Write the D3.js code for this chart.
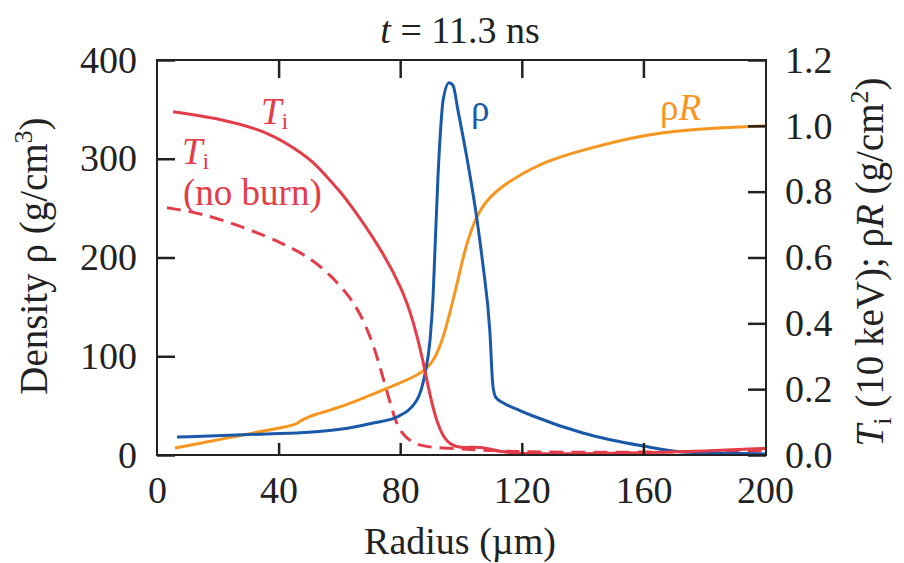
<!DOCTYPE html>
<html>
<head>
<meta charset="utf-8">
<script src="https://cdnjs.cloudflare.com/ajax/libs/d3/7.8.5/d3.min.js"></script>
<style>
  body { margin: 0; background: #fff; }
  svg text { font-family: "Liberation Serif", "Times New Roman", Times, "DejaVu Serif", serif; }
</style>
</head>
<body>
<div id="chart"></div>
<script>
// values, radius in um
var tiRadius   = [5.3, 23, 37.2, 48, 51.3, 55, 60.2, 62.5, 73.4, 80.9, 84.2, 87.5, 89.8, 93.1, 96.4, 100, 103.9, 108.6, 112.8, 120, 140, 160, 180, 200];
var tiValues   = [1.043, 1.018, 0.979, 0.915, 0.89, 0.855, 0.8, 0.775, 0.632, 0.5, 0.41, 0.29, 0.176, 0.067, 0.03, 0.022, 0.024, 0.022, 0.009, 0.004, 0.003, 0.006, 0.012, 0.02];

var tiNbRadius = [3.3, 14.1, 28.3, 42.1, 51.3, 56.9, 62.5, 66.8, 71.1, 74.3, 77.6, 79.9, 85.5, 96.4, 106.3, 119.4, 150, 180, 200];
var tiNbValues = [0.751, 0.736, 0.693, 0.641, 0.593, 0.547, 0.492, 0.432, 0.34, 0.237, 0.128, 0.067, 0.024, 0.021, 0.015, 0.009, 0.008, 0.01, 0.012];

var rhoRadius  = [6.6, 36.2, 50, 60.2, 71.1, 78.9, 85.5, 88.2, 89.8, 90.8, 91.4, 92.4, 93.3, 94.1, 96.1, 97.4, 99, 102, 104.6, 106.3, 107.2, 109.5, 110.5, 111.5, 113.8, 119.4, 123.7, 140.1, 159.9, 173, 184.2, 200];
var rhoValues  = [18.2, 21.3, 23, 26, 32.4, 38.5, 55.7, 83, 116, 160, 205, 280, 330, 359, 377, 374, 349, 300, 252, 215, 193, 125, 70, 58, 53, 45, 39.5, 22.3, 9.1, 3, 2, 1];

var rhoRRadius = [5.9, 25, 43.8, 46.1, 48.7, 60.2, 74.3, 86.5, 90.8, 94.1, 97.4, 99, 102, 106.3, 112.8, 126, 140.1, 162.2, 184.2, 200];
var rhoRValues = [0.021, 0.055, 0.088, 0.094, 0.116, 0.143, 0.198, 0.243, 0.28, 0.35, 0.471, 0.532, 0.653, 0.754, 0.815, 0.888, 0.927, 0.979, 0.994, 1.0];

var xTicks     = [0, 40, 80, 120, 160, 200];
var yLeftTicks = [0, 100, 200, 300, 400];
var yRightTicks = [0, 0.2, 0.4, 0.6, 0.8, 1.0, 1.2];

var W = 904, H = 563;
var plotL = 157, plotR = 765, plotT = 60, plotB = 455;
var SERIF = '"Liberation Serif", "Times New Roman", Times, "DejaVu Serif", serif';

var svg = d3.select('#chart').append('svg')
    .attr('width', W)
    .attr('height', H)
    .style('font-family', SERIF);

var x = d3.scaleLinear().domain([0, 200]).range([plotL, plotR]);
var yL = d3.scaleLinear().domain([0, 400]).range([plotB, plotT]);
var yR = d3.scaleLinear().domain([0, 1.2]).range([plotB, plotT]);

var RED = '#e43c48', BLUE = '#1a59aa', ORANGE = '#f7951f';

function pts(xs, ys) {
  return xs.map(function(d, i) { return [d, ys[i]]; });
}

// blue keeps its sharp corners, the others are smoothed
var lineL = d3.line().x(function(d) { return x(d[0]); }).y(function(d) { return yL(d[1]); }).curve(d3.curveMonotoneX);
var lineR = d3.line().x(function(d) { return x(d[0]); }).y(function(d) { return yR(d[1]); }).curve(d3.curveBasis);

var g = svg.append('g');

g.append('path').datum(pts(tiNbRadius, tiNbValues))
  .attr('d', lineR).attr('fill', 'none').attr('stroke', RED)
  .attr('stroke-width', 3).attr('stroke-dasharray', '14,8');

g.append('path').datum(pts(rhoRRadius, rhoRValues))
  .attr('d', lineR).attr('fill', 'none').attr('stroke', ORANGE).attr('stroke-width', 3);

g.append('path').datum(pts(rhoRadius, rhoValues))
  .attr('d', lineL).attr('fill', 'none').attr('stroke', BLUE).attr('stroke-width', 3);

g.append('path').datum(pts(tiRadius, tiValues))
  .attr('d', lineR).attr('fill', 'none').attr('stroke', RED).attr('stroke-width', 3);

// axes: ticks point inward, frame drawn separately
var fs = 38;

var ax = svg.append('g').attr('transform', 'translate(0,' + plotB + ')')
  .call(d3.axisBottom(x).tickValues(xTicks).tickSizeInner(-12).tickSizeOuter(0).tickPadding(21));
var axTop = svg.append('g').attr('transform', 'translate(0,' + plotT + ')')
  .call(d3.axisTop(x).tickValues(xTicks.slice(1, 5)).tickSizeInner(-18).tickSizeOuter(0).tickFormat(''));
var ayL = svg.append('g').attr('transform', 'translate(' + plotL + ',0)')
  .call(d3.axisLeft(yL).tickValues(yLeftTicks).tickSizeInner(-18).tickSizeOuter(0).tickPadding(20));
var ayR = svg.append('g').attr('transform', 'translate(' + (plotR + 1) + ',0)')
  .call(d3.axisRight(yR).tickValues(yRightTicks).tickSizeInner(-18).tickSizeOuter(0).tickPadding(19).tickFormat(d3.format('.1f')));

[ax, axTop, ayL, ayR].forEach(function(a) {
  a.attr('font-family', null);
  a.select('.domain').remove();
  a.selectAll('line').attr('stroke', '#222').attr('stroke-width', 2.5);
  a.selectAll('text').attr('font-size', fs).attr('fill', '#222');
});
// no tick marks at the ends of the x axis
ax.selectAll('.tick').filter(function(d) { return d === 0 || d === 200; }).select('line').remove();

svg.append('rect')
  .attr('x', plotL).attr('y', plotT)
  .attr('width', plotR + 1 - plotL).attr('height', plotB - plotT)
  .attr('fill', 'none').attr('stroke', '#222').attr('stroke-width', 2);

// title
var title = svg.append('text').attr('x', 460).attr('y', 43)
  .attr('text-anchor', 'middle').attr('font-size', fs).attr('fill', '#222');
title.append('tspan').attr('font-style', 'italic').text('t');
title.append('tspan').text(' = 11.3 ns');

// x label
svg.append('text').attr('x', 460).attr('y', 554)
  .attr('text-anchor', 'middle').attr('font-size', fs).attr('fill', '#222')
  .text('Radius (\u00b5m)');

// left label
var yl = svg.append('text')
  .attr('transform', 'translate(47,256) rotate(-90)')
  .attr('text-anchor', 'middle').attr('font-size', 39).attr('fill', '#222');
yl.append('tspan').text('Density \u03c1 (g/cm');
yl.append('tspan').attr('font-size', 26).attr('dy', -15).text('3');
yl.append('tspan').attr('dy', 15).text(')');

// right label
var yr = svg.append('text')
  .attr('transform', 'translate(883,262) rotate(-90)')
  .attr('text-anchor', 'middle').attr('font-size', 39).attr('fill', '#222');
yr.append('tspan').attr('font-style', 'italic').text('T');
yr.append('tspan').attr('font-size', 26).attr('dy', 8).text('i');
yr.append('tspan').attr('dy', -8).text(' (10 keV); \u03c1');
yr.append('tspan').attr('font-style', 'italic').text('R');
yr.append('tspan').text(' (g/cm');
yr.append('tspan').attr('font-size', 26).attr('dy', -15).text('2');
yr.append('tspan').attr('dy', 15).text(')');

// curve labels
function tiLabel(px, py) {
  var t = svg.append('text').attr('x', px).attr('y', py)
    .attr('font-size', 37).attr('fill', RED);
  t.append('tspan').attr('font-style', 'italic').text('T');
  t.append('tspan').attr('font-size', 24).attr('dy', 5).text('i');
}
tiLabel(261, 124);
tiLabel(182, 164);

svg.append('text').attr('x', 183).attr('y', 205)
  .attr('font-size', 37).attr('fill', RED).text('(no burn)');

svg.append('text').attr('x', 471).attr('y', 121)
  .attr('font-size', 37).attr('fill', BLUE).text('\u03c1');

var rr = svg.append('text').attr('x', 660).attr('y', 120)
  .attr('font-size', 37).attr('fill', ORANGE);
rr.append('tspan').text('\u03c1');
rr.append('tspan').attr('font-style', 'italic').text('R');
</script>
</body>
</html>
